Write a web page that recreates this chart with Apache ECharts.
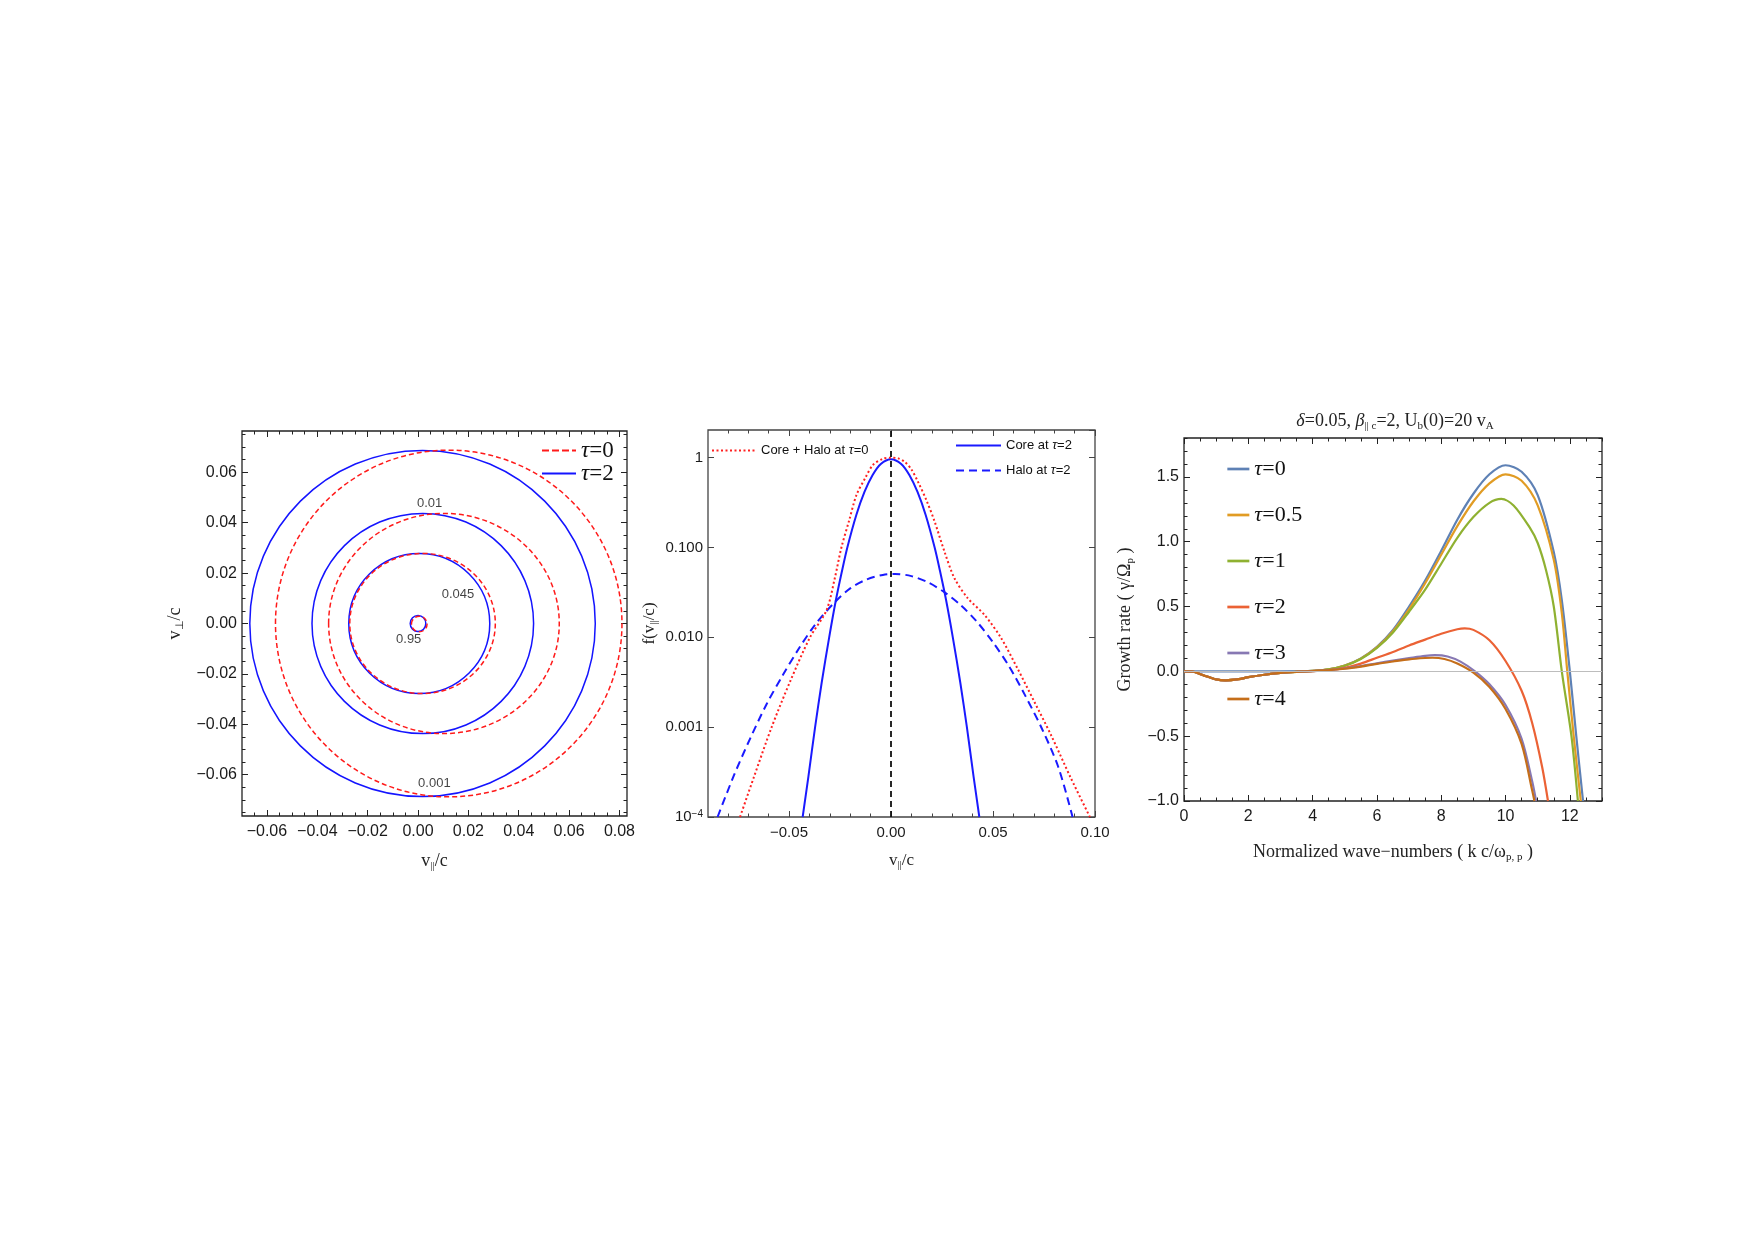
<!DOCTYPE html>
<html>
<head>
<meta charset="utf-8">
<script src="https://cdn.jsdelivr.net/npm/echarts@6/dist/echarts.min.js"></script>
<style>
  html, body { margin: 0; background: #fff; }
  #chart { width: 1754px; height: 1241px; }
</style>
</head>
<body>
<div id="chart"></div>
<script>
// ---- panel (a): contour ellipses [centre v||, centre v_perp, half-width, half-height]
const contoursTau0 = [
  [0.0122, 0.0, 0.0688, 0.0688],
  [0.0103, 0.0, 0.0458, 0.0437],
  [0.0018, 0.0, 0.0289, 0.0278],
  [0.0005, -0.0002, 0.0031, 0.0031]
];
const contoursTau2 = [
  [0.0018, 0.0, 0.0686, 0.0687],
  [0.0019, 0.0, 0.0440, 0.0437],
  [0.0005, 0.0, 0.0280, 0.0278],
  [0.0, 0.0, 0.0031, 0.0032]
];
const contourLabels = [
  [0.0046, 0.0476, '0.01'],
  [0.0159, 0.0115, '0.045'],
  [-0.0037, -0.0064, '0.95'],
  [0.0065, -0.0633, '0.001']
];

// ---- panel (b): reduced distributions f(v||/c)
const coreHaloV = [-0.074, -0.0674, -0.0585, -0.0495, -0.0397, -0.0316, -0.0275, -0.0243, -0.0205, -0.0169, -0.0125, -0.0088, -0.004, 0.0, 0.0035, 0.0067, 0.0100, 0.0132, 0.0175, 0.0214, 0.0262, 0.0311, 0.0376, 0.0458, 0.054, 0.062, 0.0702, 0.0784, 0.0882, 0.0975];
const coreHaloF = [1e-4, 2.7e-4, 1e-3, 3.2e-3, 1e-2, 2.0e-2, 4.6e-2, 0.1, 0.2, 0.385, 0.6, 0.83, 0.97, 1.0, 0.98, 0.9, 0.74, 0.54, 0.33, 0.194, 0.09, 0.0455, 0.0273, 0.0178, 0.0098, 0.0045, 0.00193, 8.2e-4, 2.7e-4, 1e-4];
const coreV = [-0.0433, -0.0405, -0.0372, -0.034, -0.0303, -0.027, -0.024, -0.0214, -0.017, -0.013, -0.009, -0.005, 0, 0.005, 0.009, 0.013, 0.017, 0.0214, 0.024, 0.027, 0.0303, 0.034, 0.0372, 0.0405, 0.0433];
const coreF = [1e-4, 2.8e-4, 1e-3, 3.1e-3, 1e-2, 2.6e-2, 5.5e-2, 0.1, 0.23, 0.415, 0.64, 0.85, 0.96, 0.85, 0.64, 0.415, 0.23, 0.1, 5.5e-2, 2.6e-2, 1e-2, 3.1e-3, 1e-3, 2.8e-4, 1e-4];
const haloV = [-0.085, -0.077, -0.069, -0.061, -0.053, -0.045, -0.037, -0.028, -0.020, -0.012, -0.004, 0.002, 0.010, 0.018, 0.026, 0.034, 0.042, 0.050, 0.058, 0.066, 0.074, 0.082, 0.089];
const haloF = [1.0e-4, 2.9e-4, 7.5e-4, 1.8e-3, 3.8e-3, 7.6e-3, 1.4e-2, 2.4e-2, 3.5e-2, 4.4e-2, 4.95e-2, 5.08e-2, 4.8e-2, 4.1e-2, 3.2e-2, 2.3e-2, 1.5e-2, 8.8e-3, 4.7e-3, 2.2e-3, 9.6e-4, 3.6e-4, 1.0e-4];

// ---- panel (c): growth rate vs k c/w_pp, [k, gamma]
const growthTau0 = [[0, 0], [1, 0], [2, 0], [3, 0], [4, 0.003], [4.5, 0.015], [5, 0.045], [5.5, 0.1], [6, 0.19], [6.5, 0.32], [7, 0.5], [7.5, 0.7], [8, 0.93], [8.5, 1.17], [9, 1.37], [9.5, 1.52], [10, 1.59], [10.5, 1.54], [11, 1.36], [11.5, 0.92], [11.75, 0.55], [12, 0.0], [12.2, -0.5], [12.41, -1.0]];
const growthTau05 = [[0, 0], [0.3, -0.003], [0.6, -0.03], [1, -0.062], [1.3, -0.069], [1.7, -0.06], [2, -0.045], [2.5, -0.026], [3, -0.012], [3.5, -0.004], [4, 0.003], [4.5, 0.015], [5, 0.044], [5.5, 0.098], [6, 0.185], [6.5, 0.31], [7, 0.48], [7.5, 0.68], [8, 0.9], [8.5, 1.12], [9, 1.31], [9.5, 1.45], [10, 1.52], [10.5, 1.47], [11, 1.28], [11.5, 0.86], [11.75, 0.45], [11.92, 0.0], [12.12, -0.5], [12.34, -1.0]];
const growthTau1 = [[0, 0], [0.3, -0.003], [0.6, -0.03], [1, -0.062], [1.3, -0.069], [1.7, -0.06], [2, -0.045], [2.5, -0.026], [3, -0.012], [3.5, -0.004], [4, 0.003], [4.5, 0.015], [5, 0.043], [5.5, 0.095], [6, 0.18], [6.5, 0.3], [7, 0.46], [7.5, 0.63], [8, 0.83], [8.5, 1.03], [9, 1.19], [9.5, 1.3], [9.87, 1.33], [10.25, 1.28], [10.75, 1.11], [11, 0.99], [11.26, 0.78], [11.5, 0.5], [11.75, 0.0], [12.05, -0.5], [12.25, -1.0]];
const growthTau2 = [[0, 0], [0.3, -0.003], [0.6, -0.03], [1, -0.062], [1.3, -0.069], [1.7, -0.06], [2, -0.045], [2.5, -0.026], [3, -0.012], [3.5, -0.004], [4, 0.002], [4.5, 0.01], [5, 0.027], [5.5, 0.06], [6, 0.105], [6.5, 0.15], [7, 0.2], [7.5, 0.245], [8, 0.29], [8.5, 0.325], [8.73, 0.332], [9, 0.32], [9.5, 0.24], [10, 0.08], [10.5, -0.15], [10.83, -0.4], [11.14, -0.74], [11.32, -1.0]];
const growthTau3 = [[0, 0], [0.3, -0.003], [0.6, -0.03], [1, -0.062], [1.3, -0.069], [1.7, -0.06], [2, -0.045], [2.5, -0.026], [3, -0.012], [3.5, -0.004], [4, 0.002], [4.5, 0.01], [5, 0.022], [5.5, 0.04], [6, 0.062], [6.5, 0.083], [7, 0.102], [7.5, 0.12], [7.8, 0.125], [8.2, 0.115], [8.6, 0.075], [9.05, 0.0], [9.5, -0.1], [10, -0.26], [10.5, -0.52], [10.83, -0.85], [10.95, -1.0]];
const growthTau4 = [[0, 0], [0.3, -0.003], [0.6, -0.03], [1, -0.062], [1.3, -0.069], [1.7, -0.06], [2, -0.045], [2.5, -0.026], [3, -0.012], [3.5, -0.004], [4, 0.002], [4.5, 0.01], [5, 0.02], [5.5, 0.037], [6, 0.058], [6.5, 0.076], [7, 0.093], [7.5, 0.103], [7.73, 0.105], [8.1, 0.095], [8.5, 0.06], [9, -0.01], [9.5, -0.12], [10, -0.29], [10.5, -0.56], [10.83, -0.92], [10.9, -1.0]];
const growthNames = ['τ=0', 'τ=0.5', 'τ=1', 'τ=2', 'τ=3', 'τ=4'];
const growthColors = ['#5E81B5', '#E19C24', '#8FB131', '#EB6235', '#8778B3', '#C56E1A'];

// ---- tick values
const ticksA_x = [-0.06, -0.04, -0.02, 0, 0.02, 0.04, 0.06, 0.08];
const ticksA_y = [-0.06, -0.04, -0.02, 0, 0.02, 0.04, 0.06];
const ticksB_x = [-0.05, 0, 0.05, 0.1];
const ticksC_x = [0, 2, 4, 6, 8, 10, 12];
const ticksC_y = [-1, -0.5, 0, 0.5, 1, 1.5];

const SANS = '"Liberation Sans", Arial, sans-serif';
const SERIF = '"Liberation Serif", "Times New Roman", serif';

function steps(a, b, step) {
  const out = [];
  for (let i = 0; a + i * step <= b + step * 1e-6; i++) out.push(+(a + i * step).toFixed(6));
  return out;
}
const signed = d => v => (v < 0 ? '−' : '') + Math.abs(v).toFixed(d);

function tickAxis(grid, side, min, max, values, len, color, label, extra) {
  const ax = {
    type: 'value', gridIndex: grid, position: side, min: min, max: max,
    axisLine: { show: false, onZero: false },
    splitLine: { show: false },
    axisTick: { show: true, inside: true, length: len, customValues: values, lineStyle: { color: color, width: 1 } },
    axisLabel: label ? Object.assign({ show: true, customValues: values }, label) : { show: false, customValues: values }
  };
  return Object.assign(ax, extra || {});
}

// major + minor ticks on both sides; labels and name only on the first side
function addAxes(list, grid, sides, min, max, major, minor, color, label, extra) {
  const first = list.length;
  sides.forEach((side, k) => {
    list.push(tickAxis(grid, side, min, max, major, 6, color, k === 0 ? label : null, k === 0 ? extra : null));
    list.push(tickAxis(grid, side, min, max, minor, 3.5, color, null, null));
  });
  return first;
}

const tickFont = size => ({ fontFamily: SANS, fontSize: size, color: '#1a1a1a' });
const nameStyle = size => ({
  fontFamily: SERIF, fontSize: size, color: '#222', lineHeight: size + 4,
  rich: {
    s: { fontFamily: SERIF, fontSize: Math.round(size * 0.62), verticalAlign: 'bottom', color: '#222' },
    i: { fontFamily: SERIF, fontSize: size, fontStyle: 'italic', color: '#222' }
  }
});

const xAxes = [];
const yAxes = [];

// panel (a)
const ax0 = addAxes(xAxes, 0, ['bottom', 'top'], -0.0699, 0.083, ticksA_x, steps(-0.065, 0.08, 0.005), '#222',
  Object.assign({ margin: 8, formatter: signed(2) }, tickFont(16)),
  { name: 'v{s|||}/c', nameLocation: 'middle', nameGap: 34, nameTextStyle: nameStyle(18) });
const ay0 = addAxes(yAxes, 0, ['left', 'right'], -0.0764, 0.0764, ticksA_y, steps(-0.075, 0.075, 0.005), '#222',
  Object.assign({ margin: 5, formatter: signed(2) }, tickFont(16)),
  { name: 'v{s|⊥}/c', nameLocation: 'middle', nameGap: 56, nameTextStyle: nameStyle(18) });

// panel (b)
const ax1 = addAxes(xAxes, 1, ['bottom', 'top'], -0.0897, 0.1, ticksB_x, steps(-0.09, 0.1, 0.01), '#444',
  Object.assign({ margin: 8, formatter: signed(2) }, tickFont(15)),
  { name: 'v{s|||}/c', nameLocation: 'middle', nameGap: 33, nameTextStyle: nameStyle(17) });
const ay1 = yAxes.length;
['left', 'right'].forEach((side, k) => {
  yAxes.push({
    type: 'log', logBase: 10, gridIndex: 1, position: side, min: 1e-4, max: 2.03,
    axisLine: { show: false, onZero: false }, splitLine: { show: false },
    axisTick: { show: true, inside: true, length: 6, lineStyle: { color: '#444', width: 1 } },
    minorTick: { show: false },
    axisLabel: k === 0 ? Object.assign({
      show: true, margin: 5, showMaxLabel: false,
      formatter: v => {
        const e = Math.round(Math.log10(v));
        if (Math.abs(Math.log10(v) - e) > 1e-6) return '';
        if (e === -4) return '10{sup|−4}';
        return { '-3': '0.001', '-2': '0.010', '-1': '0.100', '0': '1' }[String(e)] || '';
      },
      rich: { sup: { fontFamily: SANS, fontSize: 10, verticalAlign: 'top', color: '#1a1a1a' } }
    }, tickFont(15)) : { show: false },
    name: k === 0 ? 'f(v{s|||}/c)' : '', nameLocation: 'middle', nameGap: 48, nameTextStyle: nameStyle(17)
  });
});

// panel (c)
const ax2 = addAxes(xAxes, 2, ['bottom', 'top'], 0, 13, ticksC_x, steps(0, 13, 0.5), '#222',
  Object.assign({ margin: 8, formatter: v => String(v) }, tickFont(16)),
  { name: 'Normalized wave−numbers ( k c/ω{s|p, p} )', nameLocation: 'middle', nameGap: 40, nameTextStyle: nameStyle(18) });
const ay2 = addAxes(yAxes, 2, ['left', 'right'], -1, 1.8, ticksC_y, steps(-1, 1.8, 0.1), '#222',
  Object.assign({ margin: 5, formatter: signed(1) }, tickFont(16)),
  { name: 'Growth rate ( γ/Ω{s|p} )', nameLocation: 'middle', nameGap: 48, nameTextStyle: nameStyle(18) });

function contourSeries(name, data, color, dash) {
  return {
    type: 'custom', name: name, xAxisIndex: ax0, yAxisIndex: ay0, silent: true,
    dimensions: ['cx', 'cy', 'rx', 'ry'], encode: { x: 0, y: 1 },
    data: data,
    renderItem: (params, api) => {
      const c = api.coord([api.value(0), api.value(1)]);
      const s = api.size([api.value(2), api.value(3)], [api.value(0), api.value(1)]);
      return {
        type: 'ellipse',
        shape: { cx: c[0], cy: c[1], rx: s[0], ry: s[1] },
        style: { fill: null, stroke: color, lineWidth: 1.5, lineDash: dash }
      };
    }
  };
}

const zip = (xs, ys) => xs.map((x, i) => [x, ys[i]]);
const curve = (name, data, xi, yi, color, width, type, smooth) => ({
  type: 'line', name: name, xAxisIndex: xi, yAxisIndex: yi, data: data,
  symbol: 'none', smooth: smooth, color: color,
  lineStyle: { color: color, width: width, type: type || 'solid' }
});

const series = [
  contourSeries('contours τ=2', contoursTau2, '#1414ff', null),
  contourSeries('contours τ=0', contoursTau0, '#ff1a1a', [5, 3]),
  {
    type: 'scatter', name: 'levels', xAxisIndex: ax0, yAxisIndex: ay0, silent: true,
    symbolSize: 1, itemStyle: { color: 'rgba(0,0,0,0)' },
    data: contourLabels,
    label: { show: true, position: 'inside', formatter: p => p.value[2], fontFamily: SANS, fontSize: 13, color: '#111' }
  },
  curve('legend τ=0', [], ax0, ay0, '#ff1a1a', 3, [7, 3], false),
  curve('legend τ=2', [], ax0, ay0, '#1414ff', 2.5, 'solid', false),

  curve('Halo at τ=2', zip(haloV, haloF), ax1, ay1, '#1a1aff', 2, [8, 5], 0.3),
  curve('Core at τ=2', zip(coreV, coreF), ax1, ay1, '#1a1aff', 2, 'solid', 0.3),
  curve('Core + Halo at τ=0', zip(coreHaloV, coreHaloF), ax1, ay1, '#ff2020', 2, [2, 2.5], 0.3),
  {
    type: 'line', name: 'v0', xAxisIndex: ax1, yAxisIndex: ay1, data: [], symbol: 'none',
    markLine: { silent: true, symbol: ['none', 'none'], label: { show: false }, animation: false,
      lineStyle: { color: '#111', width: 1.8, type: [6, 4] }, data: [{ xAxis: 0 }] }
  },

  {
    type: 'line', name: 'zero', xAxisIndex: ax2, yAxisIndex: ay2, data: [], symbol: 'none',
    markLine: { silent: true, symbol: ['none', 'none'], label: { show: false }, animation: false,
      lineStyle: { color: '#bdbdbd', width: 1, type: 'solid' }, data: [{ yAxis: 0 }] }
  }
];
[growthTau0, growthTau05, growthTau1, growthTau2, growthTau3, growthTau4].forEach((d, i) => {
  series.push(curve(growthNames[i], d, ax2, ay2, growthColors[i], 2.2, 'solid', 0.3));
});

const tauText = (size, family) => ({
  fontFamily: family, fontSize: size, color: '#111', lineHeight: size + 2,
  rich: { i: { fontFamily: family, fontSize: size, fontStyle: 'italic', color: '#111' } }
});
const italicTau = n => n.replace('legend ', '').replace('τ', '{i|τ}');
// hide the symbol that line series put in the middle of their legend icon
const noSymbol = { color: 'rgba(0,0,0,0)', borderColor: 'rgba(0,0,0,0)', borderWidth: 0 };

const option = {
  animation: false,
  backgroundColor: '#fff',
  grid: [
    { left: 242, top: 431, width: 385, height: 385, show: true, borderColor: '#222', borderWidth: 1.3, containLabel: false },
    { left: 708, top: 430, width: 387, height: 387, show: true, borderColor: '#444', borderWidth: 1.3, containLabel: false },
    { left: 1184, top: 438, width: 418, height: 363, show: true, borderColor: '#222', borderWidth: 1.3, containLabel: false }
  ],
  title: {
    text: '{i|δ}=0.05, {i|β}{s||| c}=2, U{s|b}(0)=20 v{s|A}',
    left: 1395, top: 410, textAlign: 'center', padding: 0,
    textStyle: Object.assign({ fontWeight: 'normal' }, nameStyle(18))
  },
  legend: [
    {
      data: ['legend τ=0', 'legend τ=2'], orient: 'vertical', left: 541, top: 439, padding: 0,
      itemWidth: 34, itemHeight: 14, itemGap: 0, selectedMode: false, itemStyle: noSymbol,
      formatter: italicTau, textStyle: Object.assign(tauText(23, SERIF), { lineHeight: 19 })
    },
    {
      data: ['Core + Halo at τ=0'], left: 711, top: 443, padding: 0,
      itemWidth: 44, itemHeight: 14, selectedMode: false, itemStyle: noSymbol,
      formatter: italicTau, textStyle: tauText(13, SANS)
    },
    {
      data: ['Core at τ=2', 'Halo at τ=2'], orient: 'vertical', left: 955, top: 438, padding: 0,
      itemWidth: 45, itemHeight: 14, itemGap: 10, selectedMode: false, itemStyle: noSymbol,
      formatter: italicTau, textStyle: tauText(13, SANS)
    },
    {
      data: growthNames, orient: 'vertical', left: 1226, top: 457, padding: 0,
      itemWidth: 22, itemHeight: 14, itemGap: 22, selectedMode: false, itemStyle: noSymbol,
      lineStyle: { width: 2.7 },
      formatter: italicTau, textStyle: Object.assign(tauText(22, SERIF), { lineHeight: 24 })
    }
  ],
  xAxis: xAxes,
  yAxis: yAxes,
  series: series
};

const chart = echarts.init(document.getElementById('chart'));
chart.setOption(option);
</script>
</body>
</html>
